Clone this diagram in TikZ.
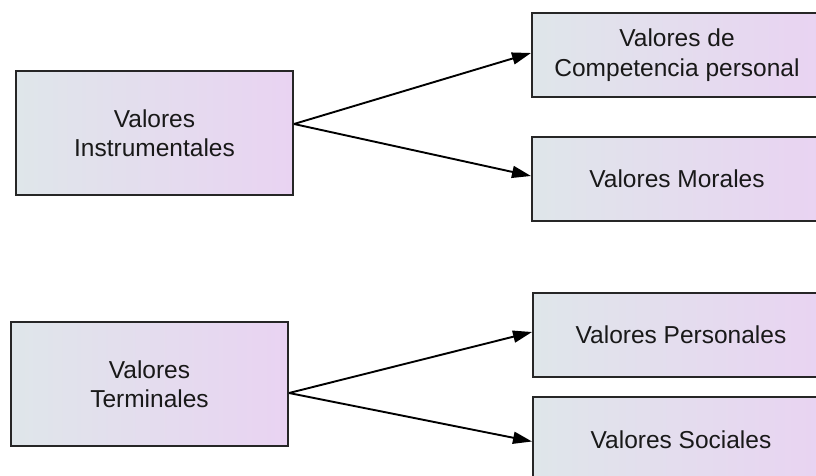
\documentclass[tikz,border=0pt]{standalone}
\usepackage{fontspec}
\setmainfont{Liberation Sans}
\usetikzlibrary{arrows.meta}
\begin{document}
\begin{tikzpicture}[x=1pt,y=-1pt,
  valbox/.style={draw=black!85, line width=2pt, rectangle, inner sep=0pt,
    left color=boxleft, right color=boxright, align=center,
    font=\fontsize{24.5}{29.5}\selectfont, text=black!90},
  link/.style={line width=1.9pt, draw=black,
    -{Triangle[length=19pt,width=12pt]}}]
\definecolor{boxleft}{HTML}{DFE6EA}
\definecolor{boxright}{HTML}{E9D3F2}
\useasboundingbox (0,0) rectangle (816,476);
\clip (0,0) rectangle (816,476);
% sources
\node[valbox, minimum width=277pt, minimum height=124pt] (ins) at (154.5,133) {Valores\\Instrumentales};
\node[valbox, minimum width=277pt, minimum height=124pt] (ter) at (149.5,384) {Valores\\Terminales};
% targets
\node[valbox, minimum width=290pt, minimum height=84pt] (comp) at (677,55) {Valores de\\Competencia personal};
\node[valbox, minimum width=290pt, minimum height=84pt] (mor) at (677,179) {Valores Morales};
\node[valbox, minimum width=296pt, minimum height=84pt] (per) at (681,335) {Valores Personales};
\node[valbox, minimum width=296pt, minimum height=85pt] (soc) at (681,439.5) {Valores Sociales};
% connectors
\draw[link] ([yshift=9pt]ins.east) -- ([yshift=2pt]comp.west);
\draw[link] ([yshift=9pt]ins.east) -- ([yshift=3pt]mor.west);
\draw[link] ([yshift=-9pt]ter.east) -- ([yshift=3pt]per.west);
\draw[link] ([yshift=-9pt]ter.east) -- ([yshift=-2pt]soc.west);
\end{tikzpicture}
\end{document}
